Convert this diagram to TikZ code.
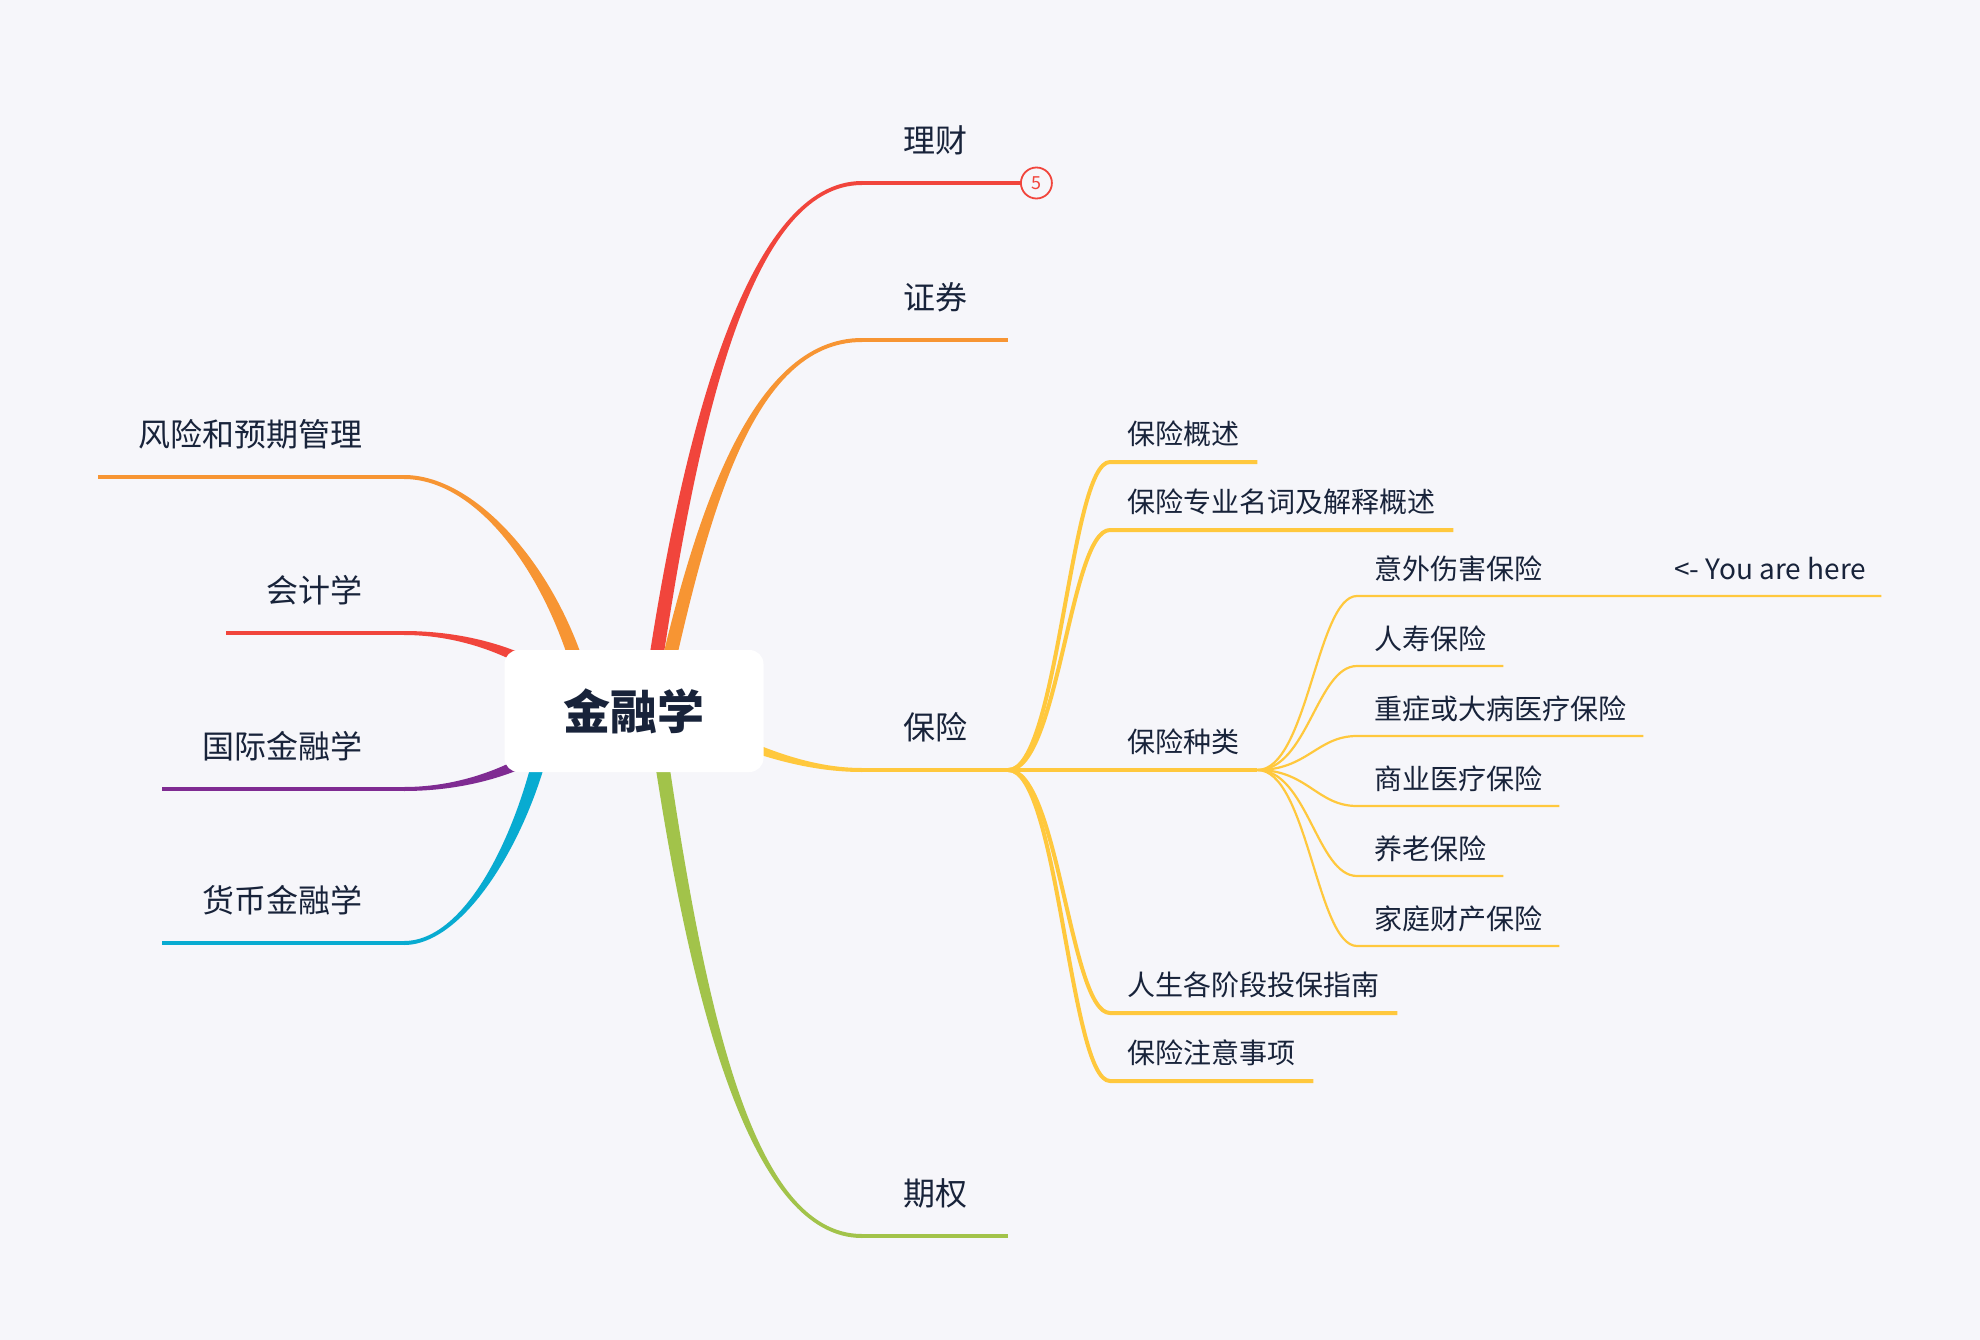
\documentclass[tikz,border=0pt]{standalone}
\usepackage{fontspec}
\setmainfont{Noto Sans CJK SC}
\usetikzlibrary{calc}

\definecolor{paper}{HTML}{F6F6FA}
\definecolor{ink}{HTML}{18233A}
\definecolor{cred}{HTML}{F1453C}
\definecolor{corange}{HTML}{F79533}
\definecolor{cyellow}{HTML}{FFC83D}
\definecolor{cgreen}{HTML}{A2C34A}
\definecolor{cpurple}{HTML}{7F2B92}
\definecolor{ccyan}{HTML}{08ABD1}

\pgfdeclarelayer{bg}
\pgfsetlayers{bg,main}

% tapered branch: colour, from, to, shift of 1st control, shift of 2nd control, half width at start, at end
\newcommand{\branch}[7]{%
  \coordinate (s) at (#2);
  \coordinate (t) at (#3);
  \coordinate (c1) at ($(s)+(#4)$);
  \coordinate (c2) at ($(t)+(#5)$);
  \fill[#1] ($(s)!#6!90:(c1)$) .. controls ($(c1)!#6!-90:(s)$) and ($(c2)!#7!90:(t)$) .. ($(t)!#7!-90:(c2)$)
    -- ($(t)!#7!90:(c2)$) .. controls ($(c2)!#7!-90:(t)$) and ($(c1)!#6!90:(s)$) .. ($(s)!#6!-90:(c1)$) -- cycle;
}

\tikzset{
  topic/.style={font=\fontsize{32}{36}\selectfont, text=ink, inner xsep=41pt, inner ysep=30pt, text height=24pt, text depth=0pt},
  subtopic/.style={font=\fontsize{28}{32}\selectfont, text=ink, inner xsep=17.5pt, inner ysep=17.5pt, text height=21pt, text depth=0pt},
  leaf/.style={subtopic, inner xsep=17pt, inner ysep=16pt},
  twig/.style={cyellow, line width=#1, line join=round},
}

\begin{document}
\begin{tikzpicture}[x=1pt,y=-1pt]
\begin{pgfonlayer}{bg}
\fill[paper] (0,0) rectangle (1980,1340);
\end{pgfonlayer}
\useasboundingbox (0,0) rectangle (1980,1340);

% centre
\node[fill=white, rounded corners=14pt, minimum width=259pt, minimum height=122pt, text=ink,
  font=\fontsize{47}{50}\selectfont\bfseries] (root) at (634,711) {金融学};

% right side
\node[topic, anchor=south west] (li) at (862,183) {理财};
\node[circle, draw=cred, line width=1.8pt, fill=paper, minimum size=31pt, inner sep=0pt, text=cred,
  font=\fontsize{18}{18}\selectfont] (badge) at ($(li.south east)+(28,0)$) {5};
\node[topic, anchor=south west] (zq) at (862,340) {证券};
\node[topic, anchor=south west] (bx) at (862,770) {保险};
\node[topic, anchor=south west] (qq) at (862,1236) {期权};

% left side
\node[topic, anchor=south east] (fx) at (404,477) {风险和预期管理};
\node[topic, anchor=south east] (kj) at (404,633) {会计学};
\node[topic, anchor=south east] (gj) at (404,789) {国际金融学};
\node[topic, anchor=south east] (hb) at (404,943) {货币金融学};

% insurance
\node[subtopic, anchor=south west] (gs) at (1110,462) {保险概述};
\node[subtopic, anchor=south west] (mc) at (1110,530) {保险专业名词及解释概述};
\node[subtopic, anchor=south west] (zl) at (1110,770) {保险种类};
\node[subtopic, anchor=south west] (zn) at (1110,1013) {人生各阶段投保指南};
\node[subtopic, anchor=south west] (zy) at (1110,1081) {保险注意事项};

\node[leaf, anchor=south west] (yw) at (1357,596) {意外伤害保险\hspace{132pt}\makebox[190pt][l]{<- You are here}};
\node[leaf, anchor=south west] (rs) at (1357,666) {人寿保险};
\node[leaf, anchor=south west] (zj) at (1357,736) {重症或大病医疗保险};
\node[leaf, anchor=south west] (sy) at (1357,806) {商业医疗保险};
\node[leaf, anchor=south west] (yl) at (1357,876) {养老保险};
\node[leaf, anchor=south west] (jt) at (1357,946) {家庭财产保险};

\begin{pgfonlayer}{bg}
\branch{cred}{$(root)+(16,-11)$}{li.south west}{40,-280}{-112,0}{7pt}{2pt}
\draw[cred, line width=4pt] (li.south west) -- (badge.west);
\branch{corange}{$(root)+(26,-11)$}{zq.south west}{40,-180}{-112,0}{7pt}{2pt}
\draw[corange, line width=4pt] (zq.south west) -- (zq.south east);
\branch{cyellow}{$(root)+(46,4)$}{bx.south west}{60,30}{-62,0}{6pt}{2pt}
\draw[cyellow, line width=4pt] (bx.south west) -- (bx.south east);
\branch{cgreen}{$(root)+(22,11)$}{qq.south west}{40,280}{-112,0}{7pt}{2pt}
\draw[cgreen, line width=4pt] (qq.south west) -- (qq.south east);

\branch{corange}{$(root)+(-47,-11)$}{fx.south east}{-27,-120}{76,0}{7pt}{2pt}
\draw[corange, line width=4pt] (fx.south east) -- (fx.south west);
\branch{cred}{$(root)+(-44,-6)$}{kj.south east}{-60,-55}{56,0}{7pt}{2pt}
\draw[cred, line width=4pt] (kj.south east) -- (kj.south west);
\branch{cpurple}{$(root)+(-44,6)$}{gj.south east}{-60,55}{56,0}{7pt}{2pt}
\draw[cpurple, line width=4pt] (gj.south east) -- (gj.south west);
\branch{ccyan}{$(root)+(-86,9)$}{hb.south east}{-17,100}{66,0}{7pt}{2pt}
\draw[ccyan, line width=4pt] (hb.south east) -- (hb.south west);

\foreach \n in {gs,mc,zl,zn,zy}
  \draw[twig=4pt] (bx.south east) .. controls +(50,0) and +(-40,0) .. (\n.south west) -- (\n.south east);
\foreach \n in {yw,rs,zj,sy,yl,jt}
  \draw[twig=2.2pt] (zl.south east) .. controls +(50,0) and +(-40,0) .. (\n.south west) -- (\n.south east);
\end{pgfonlayer}
\end{tikzpicture}
\end{document}
